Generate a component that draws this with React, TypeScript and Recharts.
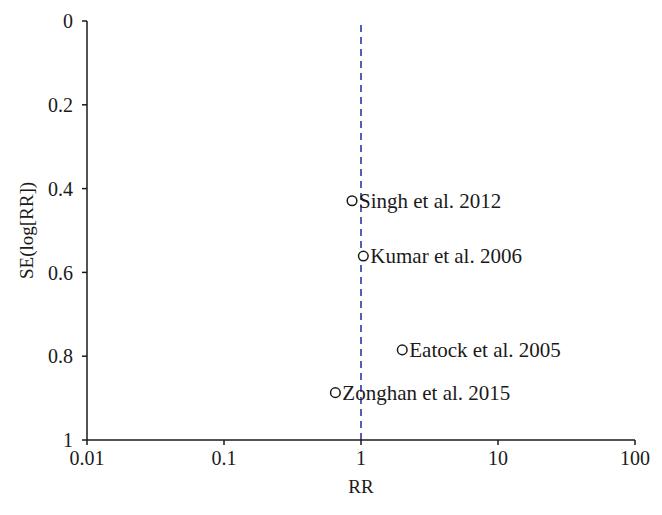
import React from "react";
import {
  ScatterChart,
  Scatter,
  XAxis,
  YAxis,
  ReferenceLine,
} from "recharts";

const studies = [
  "Singh et al. 2012",
  "Kumar et al. 2006",
  "Eatock et al. 2005",
  "Zonghan et al. 2015",
];
const rrValues = [0.86, 1.04, 2.0, 0.65];
const seValues = [0.429, 0.561, 0.785, 0.887];

const xTicks = [0.01, 0.1, 1, 10, 100];
const yTicks = [0, 0.2, 0.4, 0.6, 0.8, 1];

const data = studies.map((name, i) => ({ name, rr: rrValues[i], se: seValues[i] }));

const FONT = "'Liberation Serif', 'DejaVu Serif', serif";
const INK = "#1a1a1a";

function StudyPoint(props: any) {
  const { cx, cy, payload } = props;
  return (
    <g>
      <circle cx={cx} cy={cy} r={4.8} fill="#fff" stroke={INK} strokeWidth={1.5} />
      <text
        x={cx + 7}
        y={cy}
        dominantBaseline="central"
        fontFamily={FONT}
        fontSize={21}
        fill={INK}
      >
        {payload.name}
      </text>
    </g>
  );
}

function YLabel({ viewBox }: any) {
  const x = viewBox.x + 6;
  const y = viewBox.y + viewBox.height / 2;
  return (
    <text
      x={x}
      y={y}
      transform={`rotate(-90 ${x} ${y})`}
      textAnchor="middle"
      fontFamily={FONT}
      fontSize={19}
      fill={INK}
    >
      SE(log[RR])
    </text>
  );
}

function XLabel({ viewBox }: any) {
  return (
    <text
      x={viewBox.x + viewBox.width / 2}
      y={viewBox.y + 53}
      textAnchor="middle"
      fontFamily={FONT}
      fontSize={19}
      fill={INK}
    >
      RR
    </text>
  );
}

export default function App() {
  const tickStyle = { fontSize: 20, fill: INK, fontFamily: FONT };
  return (
    <div style={{ position: "absolute", left: 0, top: 0, background: "#fff" }}>
      <ScatterChart
        width={662}
        height={515}
        margin={{ top: 21, right: 27, bottom: 25, left: 27 }}
      >
        <XAxis
          type="number"
          dataKey="rr"
          scale="log"
          domain={[0.01, 100]}
          ticks={xTicks}
          allowDataOverflow
          tick={tickStyle}
          tickFormatter={(v) => String(v)}
          stroke={INK}
          strokeWidth={1.5}
          tickSize={5}
          tickMargin={6}
          height={50}
          label={<XLabel />}
        />
        <YAxis
          type="number"
          dataKey="se"
          domain={[0, 1]}
          reversed
          ticks={yTicks}
          tick={tickStyle}
          tickFormatter={(v) => String(v)}
          stroke={INK}
          strokeWidth={1.5}
          tickSize={5}
          tickMargin={9}
          width={60}
          label={<YLabel />}
        />
        <ReferenceLine
          x={1}
          stroke="#1f2a9c"
          strokeWidth={1.5}
          strokeDasharray="7 5"
        />
        <Scatter data={data} shape={<StudyPoint />} isAnimationActive={false} />
      </ScatterChart>
    </div>
  );
}
